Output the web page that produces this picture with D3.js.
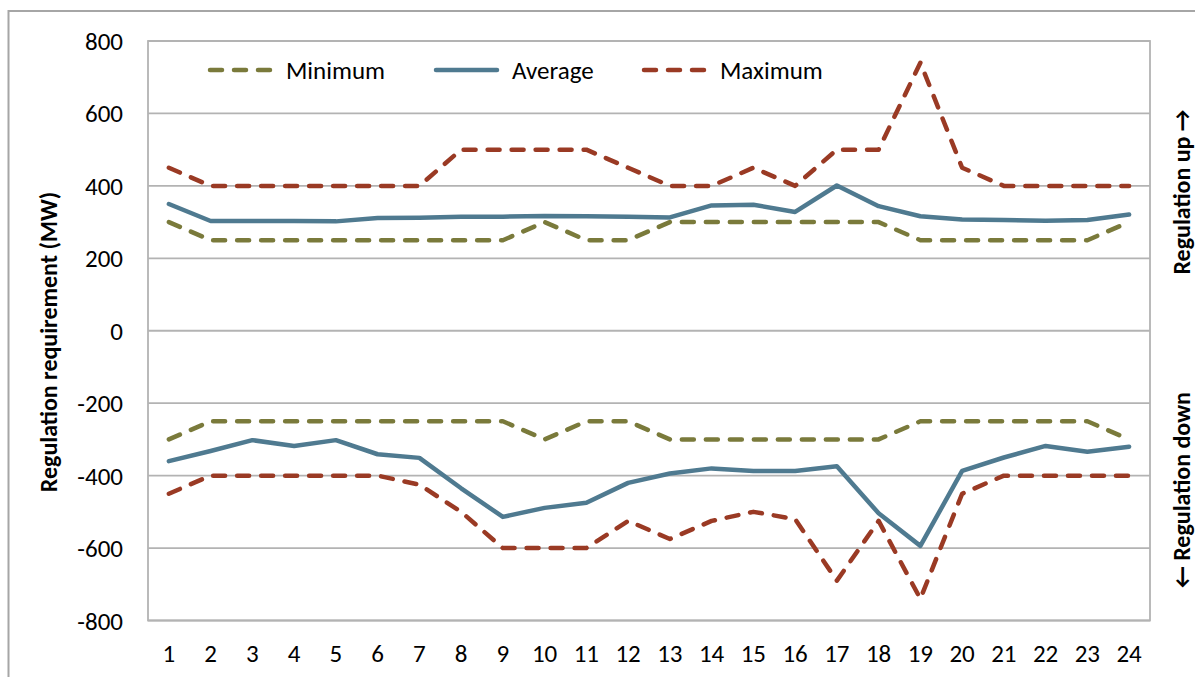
<!DOCTYPE html>
<html>
<head>
<meta charset="utf-8">
<script src="https://cdn.jsdelivr.net/npm/d3@7"></script>
<style>
  html, body { margin: 0; padding: 0; background: #ffffff; }
  svg { display: block; }
  text { font-family: Carlito, Calibri, Lato, "Open Sans", sans-serif; fill: #000; }
</style>
</head>
<body>
<div id="chart"></div>
<script>
// ---- data ----
const hours = ["1","2","3","4","5","6","7","8","9","10","11","12","13","14","15","16","17","18","19","20","21","22","23","24"];
const yTicks = [-800, -600, -400, -200, 0, 200, 400, 600, 800];
const seriesNames = ["Minimum", "Average", "Maximum"];

const minUp   = [300,250,250,250,250,250,250,250,250,300,250,250,300,300,300,300,300,300,250,250,250,250,250,300];
const avgUp   = [350,303,303,303,302,311,312,315,315,317,316,315,313,346,348,328,401,344,316,307,306,304,306,321];
const maxUp   = [450,400,400,400,400,400,400,500,500,500,500,450,400,400,450,400,500,500,740,450,400,400,400,400];

const minDown = [-300,-250,-250,-250,-250,-250,-250,-250,-250,-300,-250,-250,-300,-300,-300,-300,-300,-300,-250,-250,-250,-250,-250,-300];
const avgDown = [-360,-332,-302,-318,-302,-341,-351,-435,-514,-489,-475,-420,-394,-380,-387,-387,-374,-504,-594,-387,-350,-318,-334,-320];
const maxDown = [-450,-400,-400,-400,-400,-400,-425,-500,-600,-600,-600,-525,-575,-525,-500,-520,-690,-525,-740,-450,-400,-400,-400,-400];

// ---- layout ----
const W = 1195, H = 677;
const plot = { left: 148, top: 41, right: 1150, bottom: 620.5 };
const colors = { Minimum: "#7a7a3b", Average: "#4f7a90", Maximum: "#9a3a24" };
const dashed = { Minimum: true, Average: false, Maximum: true };
const FONT = "Carlito, Calibri, Lato, sans-serif";

const svg = d3.select("#chart").append("svg").attr("width", W).attr("height", H);

// outer chart border (extends off canvas on right/bottom)
svg.append("rect").attr("x", 8.5).attr("y", 11).attr("width", W + 20).attr("height", H + 20)
  .attr("fill", "none").attr("stroke", "#a6a6a6").attr("stroke-width", 2);

const x = d3.scaleBand().domain(hours).range([plot.left, plot.right]).padding(0);
const y = d3.scaleLinear().domain([-800, 800]).range([plot.bottom, plot.top]);
const xc = d => x(d) + x.bandwidth() / 2;

// gridlines
svg.append("g").selectAll("line").data(yTicks).join("line")
  .attr("x1", plot.left).attr("x2", plot.right)
  .attr("y1", d => y(d)).attr("y2", d => y(d))
  .attr("stroke", "#b3b3b3").attr("stroke-width", 1.8);

// plot border
svg.append("rect").attr("x", plot.left).attr("y", plot.top)
  .attr("width", plot.right - plot.left).attr("height", plot.bottom - plot.top)
  .attr("fill", "none").attr("stroke", "#b3b3b3").attr("stroke-width", 1.8);

// y axis labels
const yAxis = d3.axisLeft(y).tickValues(yTicks).tickSize(0).tickPadding(0).tickFormat(d => String(d));
const gy = svg.append("g").attr("transform", `translate(${plot.left - 25},0)`).call(yAxis);
gy.select(".domain").remove();
gy.selectAll("text").attr("font-size", 25).attr("font-family", FONT)
  .attr("fill", "#000").attr("dy", "0.34em");

// x axis labels
const xAxis = d3.axisBottom(x).tickSize(0).tickPadding(0);
const gx = svg.append("g").attr("transform", `translate(0,${plot.bottom + 29})`).call(xAxis);
gx.select(".domain").remove();
gx.selectAll("text").attr("font-size", 25).attr("font-family", FONT)
  .attr("fill", "#000").attr("dy", "0.5em");

// axis titles
svg.append("text").attr("transform", `translate(57,342) rotate(-90)`)
  .attr("text-anchor", "middle").attr("font-size", 24).attr("font-weight", "bold")
  .text("Regulation requirement (MW)");
svg.append("text").attr("transform", `translate(1190,192) rotate(-90)`)
  .attr("text-anchor", "middle").attr("font-size", 24).attr("font-weight", "bold")
  .text("Regulation up \u2192");
svg.append("text").attr("transform", `translate(1190,490) rotate(-90)`)
  .attr("text-anchor", "middle").attr("font-size", 24).attr("font-weight", "bold")
  .text("\u2190 Regulation down");

// lines
const line = d3.line().x((d, i) => xc(hours[i])).y(d => y(d));
const seriesData = [
  ["Minimum", minUp], ["Minimum", minDown],
  ["Average", avgUp], ["Average", avgDown],
  ["Maximum", maxUp], ["Maximum", maxDown]
];
const order = ["Maximum", "Minimum", "Average"];
order.forEach(name => {
  seriesData.filter(s => s[0] === name).forEach(([n, vals]) => {
    svg.append("path").datum(vals).attr("d", line)
      .attr("fill", "none").attr("stroke", colors[n]).attr("stroke-width", 4.5)
      .attr("stroke-linecap", "round").attr("stroke-linejoin", "round")
      .attr("stroke-dasharray", dashed[n] ? "12,12" : null);
  });
});

// legend
const legendX = [208, 434, 642];
const lg = svg.append("g");
seriesNames.forEach((n, i) => {
  const g = lg.append("g").attr("transform", `translate(${legendX[i]},70)`);
  g.append("line").attr("x1", 2).attr("x2", 63).attr("y1", 0).attr("y2", 0)
    .attr("stroke", colors[n]).attr("stroke-width", 4.5).attr("stroke-linecap", "round")
    .attr("stroke-dasharray", dashed[n] ? "12,12" : null);
  g.append("text").attr("x", 78).attr("y", 0).attr("dy", "0.35em")
    .attr("font-size", 25).attr("font-family", FONT).text(n);
});
</script>
</body>
</html>
